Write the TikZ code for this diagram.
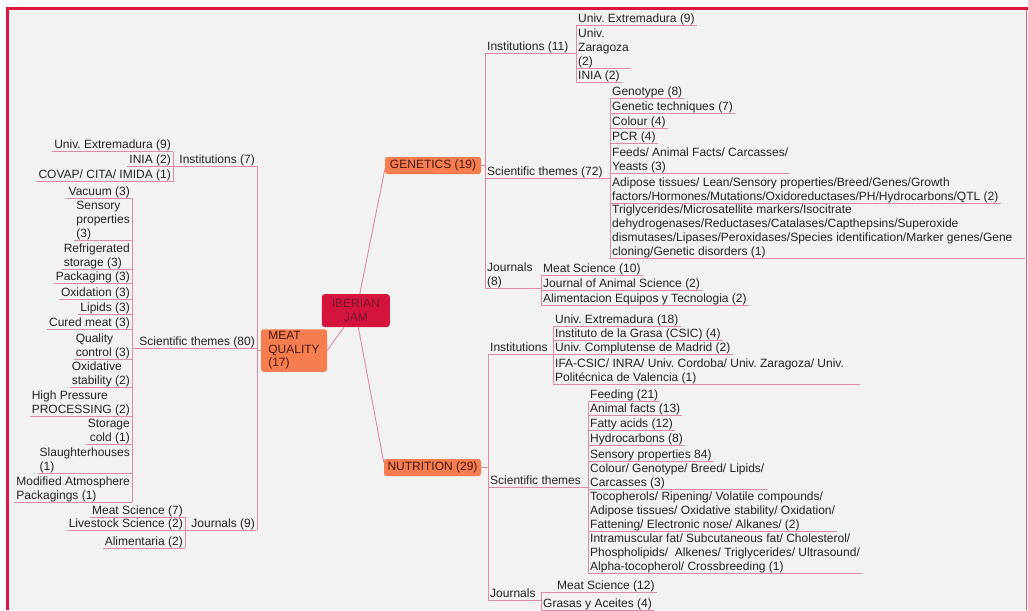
\documentclass[tikz,border=0pt]{standalone}
\usepackage{fontspec}
\setmainfont{Liberation Sans}
\definecolor{bg}{RGB}{242,242,242}
\definecolor{framered}{RGB}{220,22,60}
\definecolor{lcol}{RGB}{226,138,164}
\definecolor{tcol}{RGB}{35,35,35}
\definecolor{orng}{RGB}{245,125,80}
\definecolor{crim}{RGB}{212,20,60}
\definecolor{crimtxt}{RGB}{125,20,45}
\definecolor{otxt}{RGB}{70,25,15}
\newcommand\fs{\fontsize{12}{14}\selectfont\frenchspacing}
\newcommand\mystrut{\rule[-2.8pt]{0pt}{10pt}}
\begin{document}
\frenchspacing
\begin{tikzpicture}[x=1pt,y=-1pt,
  txt/.style={font=\fs, text=tcol, inner xsep=2pt, inner ysep=0pt, align=left, execute at end node=\mystrut},
  R/.style={txt, anchor=south west},
  L/.style={txt, anchor=south east},
  ln/.style={draw=lcol, line width=0.9pt},
  box/.style={fill=orng, rounded corners=2.5pt, inner sep=0pt, font=\fs, text=otxt},
]
% background and frame
\fill[white] (0,0) rectangle (1028,610);
\fill[bg] (6,7) rectangle (1027,610);
\fill[framered] (6,7) rectangle (9,610);
\fill[framered] (6,7) rectangle (1028,10);
\draw[lcol!60!framered, line width=0.8pt] (1026.5,10) -- (1026.5,610);
\useasboundingbox (0,0) rectangle (1028,610);

% main nodes
\node[fill=crim, rounded corners=3pt, minimum width=68pt, minimum height=33pt, inner sep=0pt, font=\fs, text=crimtxt, align=center] (jam) at (355.8,310.6) {IBERIAN\\JAM};
\node[box, minimum width=66pt, minimum height=42.5pt, align=left, font=\fontsize{12}{13.5}\selectfont] (mq) at (294,350.5) {MEAT\\QUALITY\\(17)};
\node[box, minimum width=96pt, minimum height=17pt] (gen) at (433,165.5) {GENETICS (19)};
\node[box, minimum width=97pt, minimum height=17pt] (nut) at (432.5,467.5) {NUTRITION (29)};

\draw[ln] ([xshift=4pt]jam.north) -- ([yshift=-4pt]gen.west);
\draw[ln] ([xshift=2.5pt]jam.south) -- ([yshift=5pt]nut.west);
\draw[ln] ([xshift=-12pt]jam.south) -- (mq.east);

% ---------------- GENETICS ----------------
\node[R] (gi) at (485,53) {Institutions (11)};
\node[R] (gs) at (485,178) {Scientific themes (72)};
\node[R] (gj) at (485,288) {Journals\\(8)};
\draw[ln] (gen.east) -- (gen.east -| gi.south west);
\draw[ln] (gi.south west) -- (gj.south west);

\node[R] (gi1) at (576,25) {Univ. Extremadura (9)};
\node[R] (gi2) at (576,68) {Univ.\\Zaragoza\\(2)};
\node[R] (gi3) at (576,82) {INIA (2)};
\draw[ln] (gi.south west) -- (gi.south west -| gi1.south west);
\draw[ln] (gi1.south west) -- (gi3.south west);

\node[R] (gs1) at (610,98) {Genotype (8)};
\node[R] (gs2) at (610,113) {Genetic techniques (7)};
\node[R] (gs3) at (610,128) {Colour (4)};
\node[R] (gs4) at (610,143) {PCR (4)};
\node[R] (gs5) at (610,173) {Feeds/ Animal Facts/ Carcasses/\\Yeasts (3)};
\node[R] (gs6) at (610,203) {Adipose tissues/ Lean/Sensory properties/Breed/Genes/Growth\\factors/Hormones/Mutations/Oxidoreductases/PH/Hydrocarbons/QTL (2)};
\node[R] (gs7) at (610,258) {Triglycerides/Microsatellite markers/Isocitrate\\dehydrogenases/Reductases/Catalases/Capthepsins/Superoxide\\dismutases/Lipases/Peroxidases/Species identification/Marker genes/Gene\\cloning/Genetic disorders (1)};
\coordinate (gs7end) at (1025,258);
\draw[ln] (gs.south west) -- (gs.south west -| gs1.south west);
\draw[ln] (gs1.south west) -- (gs7.south west);
\draw[ln] (gs7.south west) -- (gs7end);

\node[R] (gj1) at (541,275.5) {Meat Science (10)};
\node[R] (gj2) at (541,290) {Journal of Animal Science (2)};
\node[R] (gj3) at (541,305) {Alimentacion Equipos y Tecnologia (2)};
\draw[ln] (gj.south west) -- (gj.south west -| gj1.south west);
\draw[ln] (gj1.south west) -- (gj3.south west);

\foreach \nn in {gi,gs,gj,gi1,gi2,gi3,gs1,gs2,gs3,gs4,gs5,gs6,gj1,gj2,gj3}
  \draw[ln] (\nn.south west) -- (\nn.south east);

% ---------------- NUTRITION ----------------
\node[R] (ni) at (488,354) {Institutions};
\node[R] (ns) at (488,487) {Scientific themes};
\node[R] (nj) at (488,600) {Journals};
\draw[ln] (nut.east) -- (nut.east -| ni.south west);
\draw[ln] (ni.south west) -- (nj.south west);

\node[R] (ni1) at (553,326) {Univ. Extremadura (18)};
\node[R] (ni2) at (553,340) {Instituto de la Grasa (CSIC) (4)};
\node[R] (ni3) at (553,354.5) {Univ. Complutense de Madrid (2)};
\node[R] (ni4) at (553,384) {IFA-CSIC/ INRA/ Univ. Cordoba/ Univ. Zaragoza/ Univ.\\Politécnica de Valencia (1)};
\draw[ln] (ni.south west) -- (ni.south west -| ni1.south west);
\draw[ln] (ni1.south west) -- (ni4.south west);
\draw[ln] (ni4.south west) -- ([xshift=14pt]ni4.south east);

\node[R] (ns1) at (588,401) {Feeding (21)};
\node[R] (ns2) at (588,415.5) {Animal facts (13)};
\node[R] (ns3) at (588,430.5) {Fatty acids (12)};
\node[R] (ns4) at (588,445.5) {Hydrocarbons (8)};
\node[R] (ns5) at (588,461) {Sensory properties 84)};
\node[R] (ns6) at (588,489.5) {Colour/ Genotype/ Breed/ Lipids/\\Carcasses (3)};
\node[R] (ns7) at (588,531.5) {Tocopherols/ Ripening/ Volatile compounds/\\Adipose tissues/ Oxidative stability/ Oxidation/\\Fattening/ Electronic nose/ Alkanes/ (2)};
\node[R] (ns8) at (588,573) {Intramuscular fat/ Subcutaneous fat/ Cholesterol/\\Phospholipids/~ Alkenes/ Triglycerides/ Ultrasound/\\Alpha-tocopherol/ Crossbreeding (1)};
\draw[ln] (ns.south west) -- (ns.south west -| ns1.south west);
\draw[ln] (ns1.south west) -- (ns8.south west);

\node[R] (nj1) at (555,592) {Meat Science (12)};
\node[R] (nj2) at (541,610) {Grasas y Aceites (4)};
\coordinate (njv) at (541,592);
\draw[ln] (nj.south west) -- (nj.south west -| njv);
\draw[ln] (njv) -- (nj1.south east);
\draw[ln] (njv) -- (nj2.south west);

\foreach \nn in {ni,ns,nj,ni1,ni2,ni3,ns1,ns2,ns3,ns4,ns5,ns6,ns7,ns8,nj2}
  \draw[ln] (\nn.south west) -- (\nn.south east);

% ---------------- MEAT QUALITY ----------------
\node[L] (mi) at (257,166) {Institutions (7)};
\node[L] (ms) at (257,348) {Scientific themes (80)};
\node[L] (mj) at (257,530) {Journals (9)};
\draw[ln] (mq.west) -- (mq.west -| mi.south east);
\draw[ln] (mi.south east) -- (mj.south east);

\node[L] (mi1) at (173,151.5) {Univ. Extremadura (9)};
\node[L] (mi2) at (173,166.5) {INIA (2)};
\node[L] (mi3) at (173,181.5) {COVAP/ CITA/ IMIDA (1)};
\draw[ln] (mi.south east) -- (mi.south east -| mi1.south east);
\draw[ln] (mi1.south east) -- (mi3.south east);

\node[L] (ms1) at (132,198) {Vacuum (3)};
\node[L] (ms2) at (132,240) {Sensory\\properties\\(3)};
\node[L] (ms3) at (132,269) {Refrigerated\\storage (3)};
\node[L] (ms4) at (132,283.5) {Packaging (3)};
\node[L] (ms5) at (132,299) {Oxidation (3)};
\node[L] (ms6) at (132,314) {Lipids (3)};
\node[L] (ms7) at (132,329.5) {Cured meat (3)};
\node[L] (ms8) at (132,359) {Quality\\control (3)};
\node[L] (ms9) at (132,387) {Oxidative\\stability (2)};
\node[L] (ms10) at (132,416) {High Pressure\\PROCESSING (2)};
\node[L, align=right] (ms11) at (132,444) {Storage\\cold (1)};
\node[L] (ms12) at (132,473) {Slaughterhouses\\(1)};
\node[L] (ms13) at (132,502) {Modified Atmosphere\\Packagings (1)};
\draw[ln] (ms.south east) -- (ms.south east -| ms1.south east);
\draw[ln] (ms1.south east) -- (ms13.south east);

\node[L] (mj1) at (185,517) {Meat Science (7)};
\node[L] (mj2) at (185,530) {Livestock Science (2)};
\node[L] (mj3) at (185,548) {Alimentaria (2)};
\draw[ln] (mj.south east) -- (mj.south east -| mj1.south east);
\draw[ln] (mj1.south east) -- (mj3.south east);

\foreach \nn in {mi,ms,mj,mi1,mi2,mi3,ms1,ms2,ms3,ms4,ms5,ms6,ms7,ms8,ms9,ms10,ms11,ms12,ms13,mj1,mj2,mj3}
  \draw[ln] (\nn.south west) -- (\nn.south east);
\end{tikzpicture}
\end{document}
